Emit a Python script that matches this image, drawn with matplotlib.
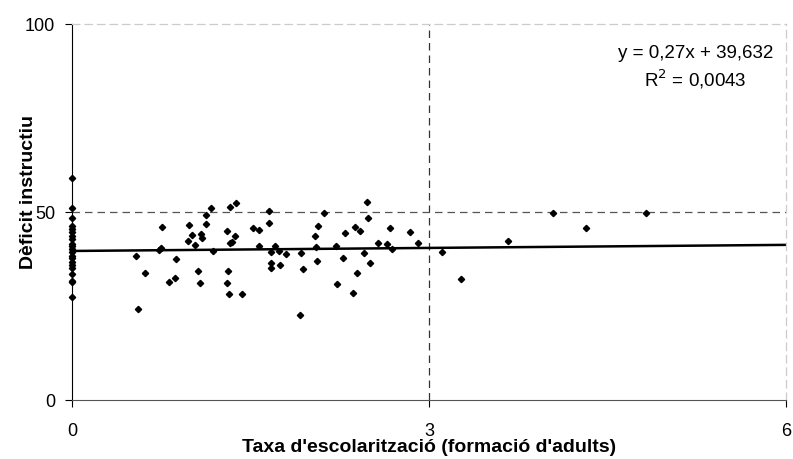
import matplotlib.pyplot as plt

plt.rcParams['font.family'] = ['Liberation Sans', 'DejaVu Sans']

# rate of schooling (adult education) vs instructional deficit
taxa = [
    0, 0, 0, 0, 0, 0, 0, 0, 0, 0, 0, 0, 0, 0, 0, 0, 0, 0, 0, 0, 0,
    0.535, 0.552, 0.613, 0.759, 0.731, 0.748, 0.877, 0.812, 0.868, 0.983,
    0.978, 1.006, 1.034, 1.056, 1.078, 1.084, 1.090, 1.123, 1.126, 1.168,
    1.188, 1.303, 1.311, 1.305, 1.322, 1.330, 1.375, 1.328, 1.345, 1.370,
    1.431, 1.524, 1.574, 1.569, 1.658, 1.658, 1.670, 1.703, 1.742, 1.798,
    1.675, 1.675, 1.748, 1.913, 1.927, 1.938, 2.039, 2.070, 2.048, 2.056,
    2.115, 2.221, 2.224, 2.277, 2.294, 2.375, 2.418, 2.392, 2.359, 2.451,
    2.482, 2.485, 2.504, 2.574, 2.644, 2.675, 2.689, 2.838, 2.910,
    3.112, 3.266, 3.664, 4.039, 4.322, 4.824,
]
deficit = [
    59.0, 51.1, 48.4, 46.3, 45.5, 44.7, 43.6, 42.8, 41.5, 41.0, 40.2,
    39.4, 38.3, 37.8, 36.7, 35.9, 35.1, 33.5, 31.6, 31.4, 27.4,
    38.4, 24.1, 33.8, 45.9, 40.0, 40.4, 37.4, 31.4, 32.5, 46.6,
    42.2, 43.8, 41.2, 34.3, 31.0, 44.1, 43.0, 46.8, 49.3, 51.1,
    39.7, 45.0, 34.2, 31.0, 28.3, 51.3, 52.3, 41.8, 42.1, 43.5,
    28.2, 45.7, 45.3, 40.9, 50.3, 47.2, 39.4, 40.9, 39.7, 38.8,
    36.4, 35.0, 35.9, 22.7, 39.0, 34.9, 43.7, 46.2, 40.7, 36.9,
    49.8, 41.0, 30.9, 37.8, 44.4, 46.1, 44.9, 33.7, 28.5, 39.2,
    52.6, 48.5, 36.4, 41.8, 41.5, 45.7, 40.1, 44.6, 41.8,
    39.4, 32.3, 42.4, 49.7, 45.7, 49.7,
]

slope = 0.27
intercept = 39.632
r2 = 0.0043

fig = plt.figure(figsize=(7.93, 4.60), dpi=100)
ax = fig.add_axes([0.0908, 0.1283, 0.9004, 0.8174])

# reference lines splitting the plane into quadrants
ax.axvline(3, color='#333333', lw=0.9, ls=(0, (6, 4)), zorder=1)
ax.axhline(50, color='#555555', lw=0.9, ls=(0, (6, 4)), zorder=1)

ax.plot(taxa, deficit, ls='none', marker='D', ms=3.2, color='black',
        clip_on=False, zorder=3)

xs = [0, 6]
ax.plot(xs, [slope * x + intercept for x in xs], color='black', lw=1.8,
        zorder=2)

# trend line equation
ax.text(5.24, 92.5, 'y = 0,27x + 39,632', ha='center', va='center',
        fontsize=13.5)
ax.text(5.24, 85.5, 'R$^2$ = ' + f'{r2:.4f}'.replace('.', ','),
        ha='center', va='center', fontsize=13.5)

ax.set_xlim(0, 6)
ax.set_ylim(0, 100)
ax.set_xticks([0, 3, 6])
ax.set_yticks([0, 50, 100])
ax.tick_params(direction='out', length=5, width=0.8, labelsize=13)
ax.tick_params(axis='x', pad=11)
ax.tick_params(axis='y', pad=7)

for side in ['top', 'right']:
    ax.spines[side].set_color('#cccccc')
    ax.spines[side].set_linestyle((0, (6, 4)))
    ax.spines[side].set_linewidth(0.9)
ax.spines['left'].set_color('black')
ax.spines['bottom'].set_color('#555555')

ax.set_xlabel("Taxa d'escolarització (formació d'adults)", fontsize=14,
              fontweight='bold')
ax.set_ylabel('Dèficit instructiu', fontsize=14, fontweight='bold')
ax.xaxis.set_label_coords(0.5, -0.102)
ax.yaxis.set_label_coords(-0.049, 0.556)

fig.savefig('out.png', dpi=100)
